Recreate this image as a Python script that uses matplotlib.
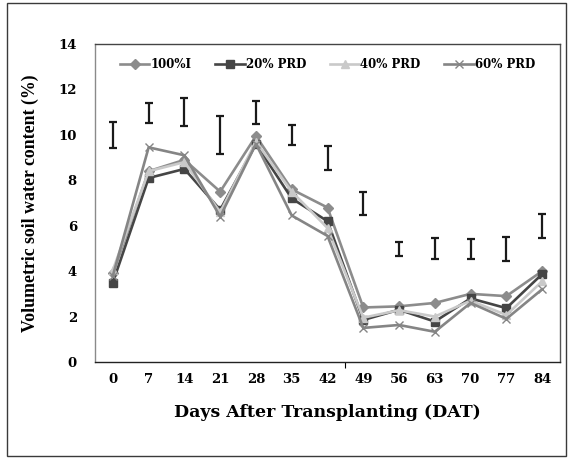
import numpy as np
import matplotlib
matplotlib.use("Agg")
import matplotlib.pyplot as plt
from matplotlib.patches import Rectangle

days = ["0", "7", "14", "21", "28", "35", "42", "49", "56", "63", "70", "77", "84"]

full_irr = [3.9, 8.4, 8.9, 7.5, 9.95, 7.6, 6.8, 2.4, 2.45, 2.6, 3.0, 2.9, 4.0]
prd_20 = [3.5, 8.1, 8.5, 6.7, 9.6, 7.2, 6.2, 1.85, 2.3, 1.78, 2.8, 2.37, 3.87]
prd_40 = [4.05, 8.4, 8.8, 6.6, 9.7, 7.5, 5.9, 1.95, 2.28, 2.0, 2.7, 2.07, 3.55]
prd_60 = [3.8, 9.45, 9.1, 6.4, 9.6, 6.45, 5.55, 1.5, 1.63, 1.33, 2.6, 1.9, 3.2]

# LSD bars drawn above the lines
bar_low = [9.4, 10.54, 10.4, 9.16, 10.48, 9.56, 8.46, 6.48, 4.67, 4.52, 4.52, 4.46, 5.47]
bar_high = [10.56, 11.42, 11.61, 10.84, 11.5, 10.45, 9.5, 7.5, 5.3, 5.45, 5.43, 5.49, 6.5]

fig = plt.figure(figsize=(5.71, 4.58), dpi=100)
W, H = 571, 458
ax = fig.add_axes([95 / W, 1 - 362 / H, (560 - 95) / W, (362 - 44) / H])

# outer frame
fig.patches.append(Rectangle((7 / W, 1 - 456 / H), (566 - 7) / W, (456 - 3) / H,
                             transform=fig.transFigure, fill=False,
                             edgecolor="#3a3a3a", lw=1.0))

x = np.arange(len(days))
ax.plot(x, full_irr, color="#8c8c8c", lw=1.9, marker="D", ms=5, label="100%I")
ax.plot(x, prd_20, color="#454545", lw=1.9, marker="s", ms=6, label="20% PRD")
ax.plot(x, prd_40, color="#c9c9c9", lw=1.9, marker="^", ms=6, label="40% PRD")
ax.plot(x, prd_60, color="#858585", lw=1.9, marker="x", ms=6, mew=1.0, label="60% PRD")

mid = (np.array(bar_low) + np.array(bar_high)) / 2
half = (np.array(bar_high) - np.array(bar_low)) / 2
ax.errorbar(x, mid, yerr=half, fmt="none", ecolor="#1a1a1a", elinewidth=1.6,
            capsize=3, capthick=1.6)

ax.set_xlim(-0.5, 12.5)
ax.set_ylim(0, 14)
ax.set_yticks(range(0, 15, 2))
ax.set_xticks(x)
ax.set_xticklabels(days)
ax.set_xticks([6.5], minor=True)
ax.tick_params(axis="x", which="minor", length=4, width=0.8, direction="out")
ax.tick_params(axis="x", which="major", length=0, pad=8)
ax.tick_params(axis="y", length=0, pad=13)

for lab in ax.get_xticklabels() + ax.get_yticklabels():
    lab.set_fontfamily("DejaVu Serif")
    lab.set_fontweight("bold")
    lab.set_fontsize(9.5)

ax.spines["left"].set_color("#8a8a8a")
ax.spines["top"].set_color("#444444")
ax.spines["right"].set_color("#555555")
ax.spines["bottom"].set_color("#222222")
for s in ax.spines.values():
    s.set_linewidth(1.0)

ax.set_xlabel("Days After Transplanting (DAT)", fontfamily="DejaVu Serif",
              fontweight="bold", fontsize=12.5, labelpad=13)
ax.set_ylabel("Volumetric soil water content (%)", fontfamily="Liberation Serif",
              fontweight="bold", fontsize=12.8, labelpad=14)

ax.legend(loc="upper center", ncol=4, frameon=False, handlelength=2.5,
          handletextpad=0.1, columnspacing=2.0, bbox_to_anchor=(0.5, 0.99),
          prop={"family": "DejaVu Serif", "weight": "bold", "size": 8.5})

fig.savefig("out.png", dpi=100)
